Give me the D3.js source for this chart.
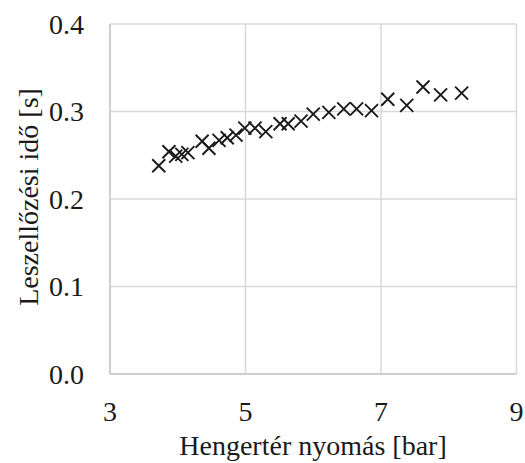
<!DOCTYPE html>
<html><head><meta charset="utf-8">
<script src="https://cdn.jsdelivr.net/npm/d3@7"></script>
<style>body{margin:0;background:#fff;}</style>
</head><body>
<script>
const pressure = [3.72,3.87,3.97,4.06,4.15,4.36,4.46,4.61,4.73,4.86,4.99,5.14,5.30,5.51,5.63,5.82,6.00,6.23,6.45,6.64,6.86,7.10,7.38,7.62,7.88,8.19];
const time =     [0.238,0.254,0.249,0.251,0.253,0.266,0.258,0.267,0.270,0.273,0.281,0.281,0.277,0.286,0.286,0.289,0.297,0.299,0.303,0.303,0.301,0.314,0.307,0.328,0.319,0.321];
const xTicks = [3,5,7,9];
const yTicks = [0,0.1,0.2,0.3,0.4];
const xTitle = "Hengertér nyomás [bar]";
const yTitle = "Leszellőzési idő [s]";

const W=525,H=463;
const svg=d3.select("body").append("svg").attr("width",W).attr("height",H);
const x=d3.scaleLinear().domain([3,9]).range([110,516.5]);
const y=d3.scaleLinear().domain([0,0.4]).range([374,24]);
const grid="#d9d9d9";
const fs=28;

svg.append("g").selectAll("line").data(yTicks).join("line")
  .attr("x1",x(3)).attr("x2",x(9)).attr("y1",d=>y(d)).attr("y2",d=>y(d))
  .attr("stroke",grid).attr("stroke-width",1.5);
svg.append("g").selectAll("line").data(xTicks).join("line")
  .attr("x1",d=>x(d)).attr("x2",d=>x(d)).attr("y1",y(0)).attr("y2",y(0.4))
  .attr("stroke",grid).attr("stroke-width",1.5);
svg.append("line").attr("x1",x(3)).attr("x2",x(9)).attr("y1",y(0)).attr("y2",y(0)).attr("stroke","#c8c8c8").attr("stroke-width",1.5);
svg.append("line").attr("x1",x(3)).attr("x2",x(3)).attr("y1",y(0)).attr("y2",y(0.4)).attr("stroke","#c8c8c8").attr("stroke-width",1.5);

const txt = sel => sel.style("font-family","'Liberation Serif','Times New Roman',serif").attr("font-size",fs).attr("fill","#1a1a1a");

svg.append("g").selectAll("text").data(yTicks).join("text")
  .attr("x",84).attr("y",d=>y(d)).attr("dy","0.35em").attr("text-anchor","end")
  .call(txt).text(d=>d3.format(".1f")(d));
svg.append("g").selectAll("text").data(xTicks).join("text")
  .attr("x",d=>x(d)).attr("y",421).attr("text-anchor","middle")
  .call(txt).text(d=>d);
svg.append("text").attr("x",313).attr("y",455).attr("text-anchor","middle")
  .call(txt).text(xTitle);
svg.append("text").attr("transform","translate(38,197) rotate(-90)").attr("text-anchor","middle")
  .call(txt).text(yTitle);

const data=pressure.map((p,i)=>({p,t:time[i]}));
const s=6.5;
svg.append("g").selectAll("path").data(data).join("path")
  .attr("transform",d=>`translate(${x(d.p)},${y(d.t)})`)
  .attr("d",`M${-s},${-s}L${s},${s}M${-s},${s}L${s},${-s}`)
  .attr("stroke","#1a1a1a").attr("stroke-width",1.9).attr("fill","none");
</script>
</body></html>
